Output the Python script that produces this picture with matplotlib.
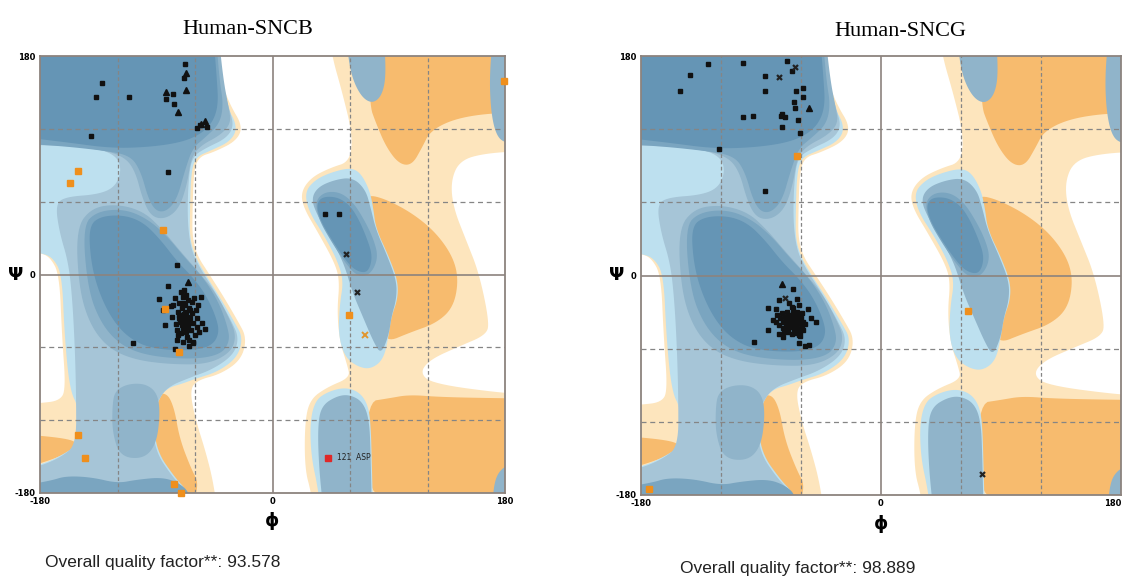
import numpy as np
import matplotlib
matplotlib.use("Agg")
import matplotlib.pyplot as plt
from matplotlib.patches import Polygon

# ---- background regions (phi, psi) ----
light_orange = [
    [(-200, 200), (-46, 200), (-44, 180), (-40, 160), (-33, 140), (-23, 122), (-28, 110), (-45, 101),
     (-57, 97), (-61, 85), (-62, 50), (-62, 30), (-58, 15), (-50, 2), (-38, -18), (-27, -38), (-20, -52),
     (-24, -70), (-40, -82), (-58, -87), (-64, -95), (-60, -118), (-52, -145), (-46, -170), (-42, -200),
     (-200, -200), (-200, -107), (-180, -106), (-165, -104), (-160, -95), (-163, -50), (-165, 0),
     (-172, 14), (-180, 18), (-200, 20)],
    [(44, 200), (46, 180), (54, 150), (62, 115), (60, 93), (45, 88), (30, 80), (22, 68), (24, 55),
     (35, 35), (48, 10), (52, -5), (50, -30), (52, -55), (58, -75), (60, -85), (42, -93), (29, -103),
     (25, -122), (25, -160), (30, -180), (32, -200), (200, -200), (200, -98), (180, -98), (124, -90),
     (114, -81), (122, -70), (145, -59), (165, -50), (168, -40), (160, 1), (150, 28), (140, 55),
     (138, 77), (145, 94), (165, 100), (200, 102), (200, 200)],
]
dark_orange = [
    [(75, 200), (75, 140), (80, 125), (88, 105), (98, 91), (108, 90), (116, 105), (122, 118),
     (140, 128), (168, 133), (200, 133), (200, 200)],
    [(73, 66), (88, 62), (109, 50), (127, 34), (140, 14), (144, -5), (140, -27), (127, -40),
     (106, -48), (88, -56), (85, -40), (90, -15), (88, 10), (80, 35), (74, 55)],
    [(72, -105), (90, -102), (106, -99), (130, -101), (180, -102), (200, -102), (200, -200), (72, -200)],
    [(-92, -100), (-82, -97), (-76, -110), (-72, -135), (-63, -160), (-57, -172), (-62, -190),
     (-80, -180), (-95, -150), (-96, -120)],
    [(-200, -131), (-158, -135), (-150, -140), (-163, -150), (-200, -162)],
]
blue1 = [
    [(-200, 200), (-48, 200), (-45, 180), (-42, 160), (-36, 140), (-27, 122), (-32, 110), (-48, 102),
     (-59, 97), (-63, 85), (-64, 50), (-64, 30), (-60, 15), (-52, 0), (-40, -20), (-29, -40),
     (-23, -52), (-27, -68), (-42, -80), (-60, -86), (-70, -90), (-80, -93), (-87, -100), (-92, -117),
     (-90, -145), (-75, -168), (-66, -178), (-62, -200), (-200, -200), (-200, -160), (-180, -157),
     (-165, -150), (-150, -140), (-150, -110), (-157, -95), (-161, -50), (-163, 0), (-170, 14),
     (-180, 18), (-200, 20)],
    [(60, 88), (45, 84), (33, 78), (25, 68), (28, 52), (40, 32), (50, 12), (55, -5), (52, -25),
     (51, -50), (56, -68), (66, -76), (76, -78), (86, -70), (90, -50), (92, -35), (97, -20), (97, -5),
     (90, 15), (80, 38), (78, 55), (75, 70), (68, 84)],
    [(55, -93), (42, -97), (33, -104), (29, -122), (30, -150), (35, -175), (38, -200), (78, -200),
     (77, -160), (76, -120), (73, -105), (66, -96)],
]
blue2 = [
    [(-200, 200), (-44, 200), (-40, 160), (-33, 135), (-30, 122), (-36, 112), (-52, 104), (-62, 97),
     (-65, 80), (-66, 45), (-63, 20), (-56, 5), (-44, -15), (-32, -38), (-26, -52), (-30, -66),
     (-46, -78), (-64, -85), (-80, -92), (-88, -102), (-93, -118), (-91, -145), (-78, -166),
     (-68, -177), (-64, -200), (-200, -200), (-200, -162), (-180, -158), (-163, -150), (-152, -140),
     (-152, -100), (-153, -60), (-155, -20), (-158, 10), (-165, 35), (-168, 58), (-160, 64),
     (-135, 66), (-122, 72), (-117, 85), (-120, 97), (-135, 104), (-160, 106), (-200, 107)],
]
blue3 = [
    [(-200, 200), (-42, 200), (-38, 160), (-34, 138), (-32, 125), (-40, 115), (-56, 106), (-63, 96),
     (-66, 75), (-72, 55), (-82, 46), (-93, 47), (-100, 60), (-107, 88), (-118, 99), (-140, 104),
     (-170, 107), (-200, 109)],
    [(-152, 38), (-140, 55), (-120, 58), (-100, 52), (-86, 38), (-72, 20), (-58, 3), (-44, -15),
     (-34, -35), (-28, -50), (-32, -64), (-50, -74), (-80, -74), (-108, -70), (-128, -60),
     (-142, -40), (-150, -10)],
    [(-122, -96), (-112, -90), (-98, -90), (-89, -98), (-87, -115), (-90, -140), (-100, -152),
     (-118, -150), (-124, -130), (-124, -108)],
    [(48, 78), (35, 72), (30, 62), (35, 48), (45, 30), (55, 10), (62, -15), (70, -35), (78, -55),
     (84, -66), (90, -50), (92, -35), (96, -20), (96, -5), (89, 15), (80, 37), (76, 55), (72, 70),
     (62, 80)],
    [(50, -100), (38, -108), (35, -125), (36, -160), (40, -200), (77, -200), (76, -150), (75, -120),
     (70, -105), (60, -99)],
    [(57, 200), (59, 175), (63, 158), (70, 145), (78, 141), (85, 148), (88, 165), (86, 200)],
    [(200, 200), (171, 200), (168, 165), (169, 135), (173, 115), (180, 108), (200, 106)],
    [(200, -200), (170, -200), (171, -175), (175, -162), (185, -155), (200, -152)],
]
blue4 = [
    [(-200, 200), (-44, 200), (-41, 160), (-38, 140), (-41, 124), (-52, 113), (-62, 104), (-68, 85),
     (-74, 62), (-82, 52), (-90, 52), (-96, 62), (-102, 85), (-110, 98), (-130, 102), (-165, 106),
     (-200, 108)],
    [(-147, 40), (-136, 52), (-115, 54), (-97, 46), (-82, 32), (-68, 14), (-54, -2), (-42, -22),
     (-35, -42), (-33, -55), (-40, -66), (-62, -70), (-97, -67), (-118, -58), (-133, -40), (-143, -12)],
    [(-200, -175), (-172, -170), (-160, -166), (-140, -167), (-120, -172), (-105, -169), (-85, -167),
     (-72, -172), (-64, -180), (-62, -200), (-200, -200)],
    [(40, 68), (33, 60), (36, 45), (45, 28), (56, 10), (66, -2), (76, 0), (82, 14), (78, 30),
     (70, 47), (62, 60), (52, 68)],
]
blue5 = [
    [(-200, 200), (-46, 200), (-43, 160), (-42, 140), (-46, 126), (-55, 116), (-70, 109), (-95, 105),
     (-125, 104), (-160, 109), (-200, 114)],
    [(-142, 40), (-133, 48), (-115, 49), (-100, 43), (-87, 29), (-74, 11), (-62, -2), (-52, -16),
     (-44, -34), (-41, -48), (-47, -59), (-64, -63), (-95, -61), (-113, -51), (-126, -34),
     (-136, -10), (-141, 14)],
    [(38, 64), (34, 57), (37, 45), (45, 30), (55, 14), (63, 4), (72, 1), (76, 7), (77, 17), (73, 30),
     (67, 45), (60, 57), (50, 64)],
]
layers = [
    (light_orange, '#fde5bd'), (dark_orange, '#f7bb6e'), (blue1, '#bde0ef'), (blue2, '#a6c5d7'),
    (blue3, '#90b4ca'), (blue4, '#7aa5c0'), (blue5, '#6595b5'),
]

# ---- Human-SNCB residues (phi, psi) ----
b_general = [
    (-131.7, 157.5), (-136.4, 146.5), (-111.1, 146.0), (-67.7, 173.0), (-68.5, 161.6), (-77.0, 148.7),
    (-82.7, 144.3), (-76.5, 140.7), (-58.7, 120.4), (-51.0, 121.3), (-56.1, 122.9), (-140.3, 113.8),
    (-80.7, 84.7), (-74.2, 7.8), (-81.1, -9.2), (-75.5, -61.1), (-108.3, -56.2), (40.6, 50.1),
    (51.7, 50.1),
    (-87.6, -20.5), (-84.5, -29.2), (-83.2, -41.6), (-78.6, -25.7), (-78.1, -34.7), (-75.5, -19.6),
    (-74.7, -41.1), (-74.2, -45.7), (-73.4, -31.2), (-72.9, -49.8), (-72.1, -23.2), (-71.6, -38.9),
    (-70.8, -14.1), (-70.3, -27.9), (-69.8, -36.1), (-69.5, -44.3), (-69.0, -18.3), (-68.5, -32.8),
    (-68.3, -12.8), (-67.7, -25.1), (-67.5, -38.9), (-67.2, -47.6), (-66.7, -30.6), (-66.4, -51.2),
    (-65.9, -34.7), (-65.7, -21.0), (-65.2, -41.6), (-64.6, -27.9), (-64.4, -54.0), (-63.9, -36.1),
    (-63.4, -45.7), (-62.6, -22.4), (-62.1, -32.0), (-61.8, -55.9), (-61.3, -40.2), (-60.5, -19.1),
    (-60.0, -49.8), (-59.5, -29.2), (-58.7, -43.0), (-58.2, -36.1), (-57.4, -25.1), (-56.6, -47.6),
    (-55.6, -18.3), (-54.8, -40.2), (-52.2, -44.9), (-76.8, -25.1), (-72.1, -33.4), (-70.3, -41.6),
    (-67.0, -16.9), (-65.2, -37.5), (-69.5, -23.8), (-63.9, -29.2), (-68.0, -35.6), (-66.4, -43.0),
    (-71.1, -48.5), (-64.9, -58.6), (-61.3, -56.7), (-69.0, -55.3), (-73.7, -54.0), (-70.3, -33.4),
    (-67.7, -32.0), (-69.5, -38.9), (-66.4, -37.5), (-72.1, -36.1), (-68.5, -41.6),
]
b_proline = [(-67.0, 166.0), (-82.7, 150.3), (-67.0, 151.7), (-73.4, 133.9), (-55.1, 124.2),
             (-52.0, 126.2), (-65.2, -6.4)]
b_glycine = [(56.9, 16.6), (65.2, -14.7)]
b_allowed = [(-150.8, 85.5), (-156.8, 75.6), (-84.8, 36.4), (-83.2, -28.7), (-72.4, -64.1),
             (-150.8, -132.2), (-145.2, -150.9), (-76.0, -172.6), (-70.8, -179.7), (179.5, 159.1),
             (59.0, -33.1)]
b_allowed_gly = [(71.9, -50.1)]
b_outlier = [(43.2, -150.9)]
b_outlier_label = ["121  ASP"]

# ---- Human-SNCG residues (phi, psi) ----
g_general = [
    (-129.5, 173.7), (-103.3, 174.3), (-70.8, 175.6), (-66.8, 167.7), (-143.0, 164.4), (-87.0, 163.3),
    (-150.8, 151.3), (-86.8, 151.6), (-64.0, 151.0), (-58.5, 153.8), (-58.5, 146.6), (-65.0, 142.3),
    (-64.3, 137.6), (-103.3, 129.7), (-95.8, 131.0), (-74.2, 132.2), (-74.7, 130.5), (-71.7, 130.2),
    (-62.0, 127.2), (-74.5, 121.5), (-60.5, 117.1), (-121.8, 104.0), (-87.3, 69.3),
    (-66.3, -11.3), (-76.3, -20.1), (-63.3, -19.5), (-84.5, -26.4), (-78.8, -27.5), (-68.8, -22.8),
    (-67.0, -25.6), (-61.3, -24.2), (-54.5, -27.5), (-52.5, -35.1), (-48.8, -37.9), (-84.5, -44.7),
    (-76.3, -48.2), (-73.8, -50.2), (-95.3, -54.3), (-60.5, -49.6), (-61.3, -55.1), (-57.3, -57.6),
    (-54.0, -57.0),
    (-77.8, -32.4), (-75.8, -35.1), (-74.5, -31.0), (-73.3, -37.8), (-72.0, -33.7), (-71.3, -40.6),
    (-70.8, -29.6), (-70.3, -36.5), (-69.5, -43.3), (-68.8, -32.4), (-68.3, -39.2), (-67.8, -35.1),
    (-67.0, -41.9), (-66.3, -31.0), (-65.8, -37.8), (-65.3, -44.7), (-64.5, -33.7), (-63.8, -40.6),
    (-63.3, -36.5), (-62.8, -43.3), (-62.0, -32.4), (-61.3, -39.2), (-60.8, -46.0), (-60.3, -35.1),
    (-59.5, -41.9), (-58.8, -37.8), (-58.3, -44.7), (-73.8, -43.3), (-76.3, -40.6), (-72.5, -46.0),
    (-70.0, -46.6), (-66.5, -48.2), (-64.0, -47.4), (-61.8, -48.8), (-57.0, -40.0), (-80.8, -36.5),
    (-78.8, -38.4), (-63.3, -29.6), (-65.8, -26.9), (-59.5, -31.0),
]
g_proline = [(-53.8, 137.6), (-74.5, -7.2)]
g_glycine = [(-64.5, 171.0), (-76.3, 162.5), (-72.0, -18.2), (75.8, -163.0)]
g_allowed = [(-62.7, 97.8), (-173.8, -175.3), (65.5, -28.8)]

W, H = 1124, 580


def smooth(pts, n=3):
    p = np.asarray(pts, float)
    for _ in range(n):
        q = np.roll(p, -1, axis=0)
        out = np.empty((2 * len(p), 2))
        out[0::2] = 0.75 * p + 0.25 * q
        out[1::2] = 0.25 * p + 0.75 * q
        p = out
    return p


def draw_background(ax):
    for shapes, col in layers:
        for s in shapes:
            ax.add_patch(Polygon(smooth(s), closed=True, fc=col, ec='none', zorder=1))
    for v in (-120, -60, 60, 120):
        ax.axvline(v, color='#858585', lw=0.9, ls=(0, (3, 2)), zorder=2)
        ax.axhline(v, color='#858585', lw=0.9, ls=(0, (4, 3)), zorder=2)
    ax.axvline(0, color='#8c837e', lw=1.2, zorder=2)
    ax.axhline(0, color='#8c837e', lw=1.2, zorder=2)


def scatter(ax, pts, **kw):
    if not pts:
        return
    a = np.array(pts)
    ax.plot(a[:, 0], a[:, 1], ls='none', zorder=5, clip_on=False, **kw)


def panel(rect, title, tx, ty, quality, qx, qy, general, proline, glycine, allowed,
          allowed_gly=(), outlier=(), outlier_lbl=(), right_align=False):
    ax = fig.add_axes(rect)
    ax.set_xlim(-180, 180)
    ax.set_ylim(-180, 180)
    draw_background(ax)
    scatter(ax, general, marker='s', ms=2.8, color='#111111')
    scatter(ax, list(proline), marker='^', ms=4.8, color='#111111')
    scatter(ax, list(glycine), marker='x', ms=3.6, mew=1.6, color='#222222')
    scatter(ax, list(allowed), marker='s', ms=3.8, color='#ef8f1c')
    scatter(ax, list(allowed_gly), marker='x', ms=4.5, mew=1.4, color='#e0962e')
    scatter(ax, list(outlier), marker='s', ms=4.2, color='#e02828')
    for (x, y), lbl in zip(outlier, outlier_lbl):
        ax.annotate(lbl, (x, y), xytext=(6, 0), textcoords='offset points', fontsize=5.5,
                    va='center', color='#222222', zorder=6)
    ax.set_xticks([-180, 0, 180])
    ax.set_xticklabels(['-180', '0', '180'])
    ax.set_yticks([-180, 0, 180])
    ax.set_yticklabels(['-180', '0', '180'])
    ax.tick_params(length=0, labelsize=6, pad=3)
    for lab in ax.get_xticklabels() + ax.get_yticklabels():
        lab.set_fontweight('bold')
    if right_align:
        ax.get_xticklabels()[-1].set_ha('right')
    for sp in ax.spines.values():
        sp.set_color('#8c837e')
        sp.set_linewidth(1.3)
    ax.text(-0.035, 0.5, 'Ψ', transform=ax.transAxes, fontsize=13, fontweight='bold',
            ha='right', va='center')
    ax.text(0.5, -0.065, 'ϕ', transform=ax.transAxes, fontsize=13, fontweight='bold',
            ha='center', va='center')
    fig.text(tx / W, 1 - ty / H, title, fontsize=16, family='Liberation Serif',
             ha='center', va='center')
    fig.text(qx / W, 1 - qy / H, 'Overall quality factor**: ' + quality, fontsize=12.5,
             family='Liberation Sans', ha='left', va='center', color='#222222')
    return ax


fig = plt.figure(figsize=(W / 100, H / 100), dpi=100)
panel([40 / W, 87 / H, 465 / W, 437 / H], 'Human-SNCB', 248, 30, '93.578', 45, 563,
      b_general, b_proline, b_glycine, b_allowed, b_allowed_gly, b_outlier, b_outlier_label)
panel([641 / W, 85 / H, 480 / W, 439 / H], 'Human-SNCG', 900, 32, '98.889', 680, 568,
      g_general, g_proline, g_glycine, g_allowed, right_align=True)
fig.savefig('out.png', dpi=100)
